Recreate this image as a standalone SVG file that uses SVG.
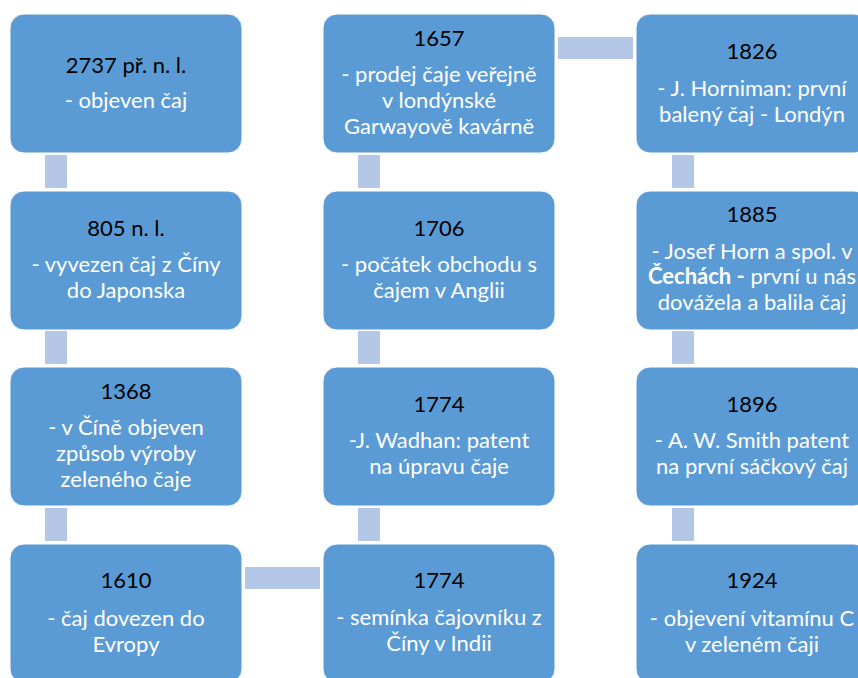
<svg xmlns="http://www.w3.org/2000/svg" width="858" height="678" viewBox="0 0 858 678">
<style>
.box{fill:#5B9BD5;stroke:#FFFFFF;stroke-width:1}
.con{fill:#B4C7E7}
text{font-family:Lato,"Liberation Sans",sans-serif;font-size:22px;text-anchor:middle}
.t{fill:#000000}
.b{fill:#FFFFFF}
.bold{font-weight:bold}
</style>
<rect width="858" height="678" fill="#FFFFFF"/>
<g id="connectors">
<rect class="con" x="45" y="155" width="22" height="33"/>
<rect class="con" x="45" y="331" width="22" height="33"/>
<rect class="con" x="45" y="508" width="22" height="33"/>
<rect class="con" x="358" y="155" width="22" height="33"/>
<rect class="con" x="358" y="331" width="22" height="33"/>
<rect class="con" x="358" y="508" width="22" height="33"/>
<rect class="con" x="672" y="155" width="22" height="33"/>
<rect class="con" x="672" y="331" width="22" height="33"/>
<rect class="con" x="672" y="508" width="22" height="33"/>
<rect class="con" x="558" y="37" width="75" height="22"/>
<rect class="con" x="245" y="567" width="75" height="22"/>
</g>
<g id="n2737">
<rect class="box" x="10" y="14" width="232" height="139" rx="14"/>
<text class="t" x="126" y="73">2737 př. n. l.</text>
<text class="b" x="126" y="108">- objeven čaj</text>
</g>
<g id="n805">
<rect class="box" x="10" y="191" width="232" height="139" rx="14"/>
<text class="t" x="126" y="236">805 n. l.</text>
<text class="b" x="126" y="272">- vyvezen čaj z Číny</text>
<text class="b" x="126" y="298">do Japonska</text>
</g>
<g id="n1368">
<rect class="box" x="10" y="367" width="232" height="139" rx="14"/>
<text class="t" x="126" y="399">1368</text>
<text class="b" x="126" y="435">- v Číně objeven</text>
<text class="b" x="126" y="461">způsob výroby</text>
<text class="b" x="126" y="487">zeleného čaje</text>
</g>
<g id="n1610">
<rect class="box" x="10" y="544" width="232" height="139" rx="14"/>
<text class="t" x="126" y="588">1610</text>
<text class="b" x="126" y="626">- čaj dovezen do</text>
<text class="b" x="126" y="652">Evropy</text>
</g>
<g id="n1657">
<rect class="box" x="323" y="14" width="232" height="139" rx="14"/>
<text class="t" x="439" y="46">1657</text>
<text class="b" x="439" y="82">- prodej čaje veřejně</text>
<text class="b" x="439" y="108">v londýnské</text>
<text class="b" x="439" y="134">Garwayově kavárně</text>
</g>
<g id="n1706">
<rect class="box" x="323" y="191" width="232" height="139" rx="14"/>
<text class="t" x="439" y="236">1706</text>
<text class="b" x="439" y="272">- počátek obchodu s</text>
<text class="b" x="439" y="298">čajem v Anglii</text>
</g>
<g id="n1774a">
<rect class="box" x="323" y="367" width="232" height="139" rx="14"/>
<text class="t" x="439" y="412">1774</text>
<text class="b" x="439" y="448">-J. Wadhan: patent</text>
<text class="b" x="439" y="474">na úpravu čaje</text>
</g>
<g id="n1774b">
<rect class="box" x="323" y="544" width="232" height="139" rx="14"/>
<text class="t" x="439" y="588">1774</text>
<text class="b" x="439" y="625">- semínka čajovníku z</text>
<text class="b" x="439" y="651">Číny v Indii</text>
</g>
<g id="n1826">
<rect class="box" x="636" y="14" width="232" height="139" rx="14"/>
<text class="t" x="752" y="59">1826</text>
<text class="b" x="752" y="96">- J. Horniman: první</text>
<text class="b" x="752" y="122">balený čaj - Londýn</text>
</g>
<g id="n1885">
<rect class="box" x="636" y="191" width="232" height="139" rx="14"/>
<text class="t" x="752" y="222">1885</text>
<text class="b" x="752" y="259">- Josef Horn a spol. v</text>
<text class="b" x="752" y="284"><tspan class="bold">Čechách -</tspan> první u nás</text>
<text class="b" x="752" y="310">dovážela a balila čaj</text>
</g>
<g id="n1896">
<rect class="box" x="636" y="367" width="232" height="139" rx="14"/>
<text class="t" x="752" y="412">1896</text>
<text class="b" x="752" y="448">- A. W. Smith patent</text>
<text class="b" x="752" y="474">na první sáčkový čaj</text>
</g>
<g id="n1924">
<rect class="box" x="636" y="544" width="232" height="139" rx="14"/>
<text class="t" x="752" y="588">1924</text>
<text class="b" x="752" y="626">- objevení vitamínu C</text>
<text class="b" x="752" y="652">v zeleném čaji</text>
</g>
</svg>
